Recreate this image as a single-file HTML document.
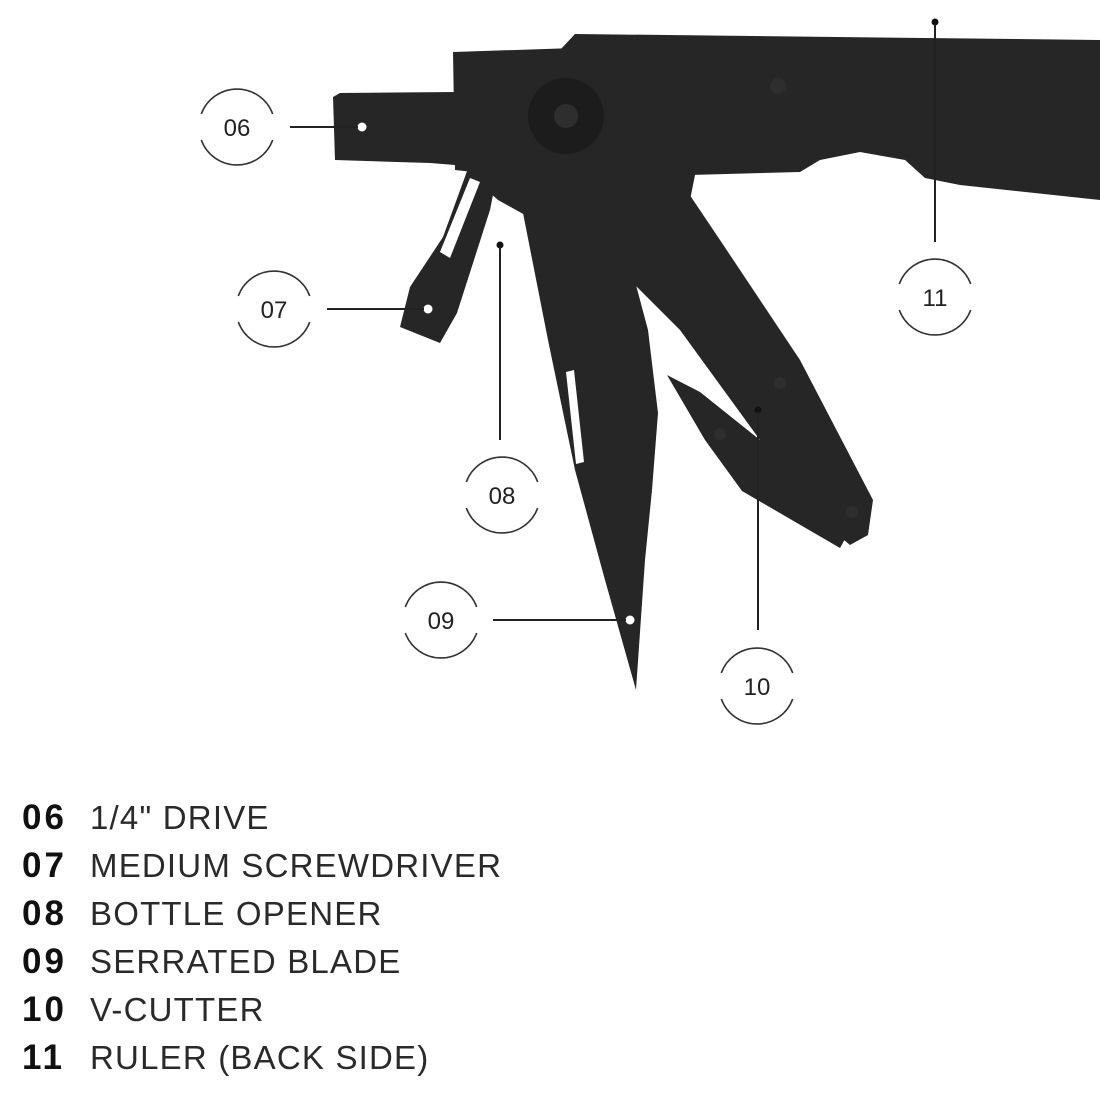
<!DOCTYPE html>
<html><head><meta charset="utf-8"><style>
html,body{margin:0;padding:0;background:#fff;}
.wrap{position:relative;width:1100px;height:1100px;overflow:hidden;}
.leg{position:absolute;left:22px;font-family:"Liberation Sans",sans-serif;font-size:33px;color:#2a2a2a;letter-spacing:1.2px;}
.leg b{display:inline-block;width:68px;font-weight:900;color:#111;font-size:35px;letter-spacing:3px;}
.leg span{font-weight:400;}
</style></head><body><div class="wrap">
<svg width="1100" height="1100" style="position:absolute;left:0;top:0">
<defs>
<g id="ring" fill="none" stroke="#333" stroke-width="1.6">
<path d="M-35.7,-13 A38,38 0 0 1 35.7,-13"/>
<path d="M35.7,13 A38,38 0 0 1 -35.7,13"/>
</g>
</defs>
<g fill="#262626">
<!-- handle -->
<polygon points="560,50 575,34 1100,40 1100,200 960,185 925,178 905,160 860,152 820,160 800,172 690,175 560,180 530,130"/>
<!-- upper tang -->
<polygon points="453,52 575,48 565,150 545,180 455,170"/>
<!-- fill between tang, pivot and arms -->
<polygon points="455,140 700,150 690,200 600,215 525,215 498,200 470,175"/>
<!-- drive -->
<polygon points="333,97 340,93 455,92 455,165 430,163 335,160"/>
<!-- screwdriver -->
<polygon points="470,163 500,160 490,210 457,313 440,343 400,327 410,287 443,237"/>
<!-- v-cutter arm -->
<polygon points="545,185 675,173 720,240 800,360 873,500 868,535 850,545 820,520 760,440 680,330 600,250"/>
<!-- v-cutter -->
<polygon points="667,375 700,392 760,440 800,470 850,530 840,548 742,491 705,440"/>
<!-- blade -->
<polygon points="523,213 562,205 600,235 632,270 648,330 658,413 652,490 645,560 636,690 605,580 575,470 548,340"/>
</g>
<g fill="#1c1c1c"><circle cx="566" cy="116" r="38"/></g>
<g fill="#2e2e2e"><circle cx="566" cy="116" r="12"/><circle cx="778" cy="86" r="8"/><circle cx="780" cy="383" r="6"/><circle cx="720" cy="434" r="6"/><circle cx="852" cy="512" r="6"/></g>
<g fill="#fff">
<polygon points="470,178 480,182 450,258 440,252"/>
<polygon points="566,372 574,370 584,462 576,464"/>
<circle cx="362" cy="127" r="4.5"/><circle cx="428" cy="309" r="4.5"/>
<circle cx="630" cy="620" r="4.5"/>
</g>
<g fill="#111"><circle cx="500" cy="245" r="3.5"/><circle cx="758" cy="410" r="3.5"/><circle cx="935" cy="22" r="3.5"/></g>
<g stroke="#222" stroke-width="2">
<line x1="290" y1="127" x2="358" y2="127"/>
<line x1="327" y1="309" x2="424" y2="309"/>
<line x1="500" y1="247" x2="500" y2="440"/>
<line x1="493" y1="620" x2="626" y2="620"/>
<line x1="758" y1="412" x2="758" y2="630"/>
<line x1="935" y1="24" x2="935" y2="242"/>
</g>
<use href="#ring" x="237" y="127"/>
<use href="#ring" x="274" y="309"/>
<use href="#ring" x="502" y="495"/>
<use href="#ring" x="441" y="620"/>
<use href="#ring" x="757" y="686"/>
<use href="#ring" x="935" y="297"/>
<g font-family="Liberation Sans,sans-serif" font-size="24" fill="#222" text-anchor="middle">
<text x="237" y="136">06</text>
<text x="274" y="318">07</text>
<text x="502" y="504">08</text>
<text x="441" y="629">09</text>
<text x="757" y="695">10</text>
<text x="935" y="306">11</text>
</g>
</svg>
<div class="leg" style="top:798px"><b>06</b><span>1/4" DRIVE</span></div>
<div class="leg" style="top:846px"><b>07</b><span>MEDIUM SCREWDRIVER</span></div>
<div class="leg" style="top:894px"><b>08</b><span>BOTTLE OPENER</span></div>
<div class="leg" style="top:942px"><b>09</b><span>SERRATED BLADE</span></div>
<div class="leg" style="top:990px"><b>10</b><span>V-CUTTER</span></div>
<div class="leg" style="top:1038px"><b>11</b><span>RULER (BACK SIDE)</span></div>
</div></body></html>
